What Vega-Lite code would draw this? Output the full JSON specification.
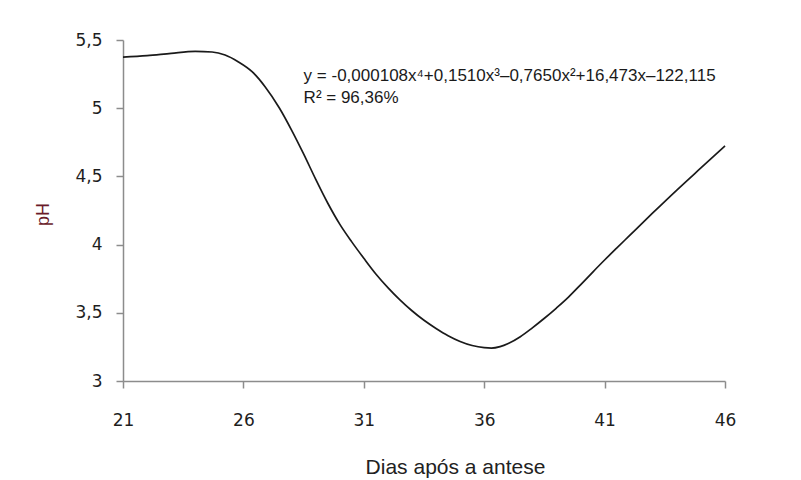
{
  "$schema": "https://vega.github.io/schema/vega-lite/v6.json",
  "autosize": {"type": "none"},
  "padding": {"left": 123, "top": 40, "right": 76, "bottom": 99},
  "width": 602,
  "height": 341,
  "background": "white",
  "config": {
    "view": {"stroke": null},
    "axis": {
      "grid": false,
      "domainColor": "#8c8c8c",
      "domainWidth": 1.5,
      "tickColor": "#8c8c8c",
      "tickWidth": 1.5,
      "tickSize": 7,
      "labelFont": "DejaVu Sans",
      "labelFontSize": 17,
      "labelColor": "#1e1e1e",
      "labelFlush": false,
      "labelOverlap": false,
      "titleFont": "Liberation Sans",
      "titleFontWeight": "normal"
    }
  },
  "datasets": {
    "curve": [
      {"dias": 21.0, "ph": 5.375},
      {"dias": 22.0, "ph": 5.385},
      {"dias": 23.0, "ph": 5.402},
      {"dias": 24.0, "ph": 5.416},
      {"dias": 24.7, "ph": 5.412},
      {"dias": 25.24, "ph": 5.39},
      {"dias": 25.78, "ph": 5.341},
      {"dias": 26.36, "ph": 5.268},
      {"dias": 26.9, "ph": 5.158},
      {"dias": 27.5, "ph": 5.0},
      {"dias": 28.0, "ph": 4.84},
      {"dias": 28.5, "ph": 4.665},
      {"dias": 29.0, "ph": 4.48},
      {"dias": 29.5, "ph": 4.305},
      {"dias": 30.0, "ph": 4.15},
      {"dias": 30.5, "ph": 4.02},
      {"dias": 31.0, "ph": 3.9},
      {"dias": 31.5, "ph": 3.785},
      {"dias": 32.0, "ph": 3.685},
      {"dias": 32.5, "ph": 3.595},
      {"dias": 33.0, "ph": 3.515},
      {"dias": 33.5, "ph": 3.445},
      {"dias": 34.0, "ph": 3.385},
      {"dias": 34.5, "ph": 3.332},
      {"dias": 35.0, "ph": 3.29},
      {"dias": 35.5, "ph": 3.26},
      {"dias": 36.0, "ph": 3.244},
      {"dias": 36.3, "ph": 3.241},
      {"dias": 36.66, "ph": 3.252},
      {"dias": 37.0, "ph": 3.275},
      {"dias": 37.5, "ph": 3.325},
      {"dias": 38.0, "ph": 3.39},
      {"dias": 38.5, "ph": 3.46},
      {"dias": 39.0, "ph": 3.535},
      {"dias": 39.5, "ph": 3.615},
      {"dias": 40.0, "ph": 3.705},
      {"dias": 40.5, "ph": 3.797},
      {"dias": 41.0, "ph": 3.887},
      {"dias": 41.5, "ph": 3.974},
      {"dias": 42.0, "ph": 4.06},
      {"dias": 43.0, "ph": 4.232},
      {"dias": 44.0, "ph": 4.4},
      {"dias": 45.0, "ph": 4.562},
      {"dias": 46.0, "ph": 4.723}
    ],
    "equation": [
      {"dias": 28.5, "ph": 5.199, "label": "y = -0,000108x⁴+0,1510x³–0,7650x²+16,473x–122,115"},
      {"dias": 28.5, "ph": 5.038, "label": "R² = 96,36%"}
    ]
  },
  "layer": [
    {
      "data": {"name": "curve"},
      "mark": {"type": "line", "color": "#1a1a1a", "strokeWidth": 1.7, "interpolate": "monotone"},
      "encoding": {
        "x": {
          "field": "dias",
          "type": "quantitative",
          "scale": {"domain": [21, 46], "nice": false, "zero": false},
          "axis": {
            "values": [21, 26, 31, 36, 41, 46],
            "labelPadding": 24,
            "title": "Dias após a antese",
            "titleFontSize": 21,
            "titleColor": "#222222",
            "titleX": 332,
            "titleY": 92,
            "titleBaseline": "alphabetic"
          }
        },
        "y": {
          "field": "ph",
          "type": "quantitative",
          "scale": {"domain": [3, 5.5], "nice": false, "zero": false},
          "axis": {
            "values": [3, 3.5, 4, 4.5, 5, 5.5],
            "labelExpr": "replace(format(datum.value, '.1~f'), '.', ',')",
            "labelPadding": 14,
            "title": "pH",
            "titleFontSize": 18,
            "titleColor": "#6a1b2a",
            "titleX": -80,
            "titleY": 174,
            "titleBaseline": "middle"
          }
        }
      }
    },
    {
      "data": {"name": "equation"},
      "mark": {"type": "text", "align": "left", "baseline": "alphabetic", "font": "Liberation Sans", "fontSize": 17, "color": "#1a1a1a"},
      "encoding": {
        "x": {"field": "dias", "type": "quantitative"},
        "y": {"field": "ph", "type": "quantitative"},
        "text": {"field": "label"}
      }
    }
  ]
}
